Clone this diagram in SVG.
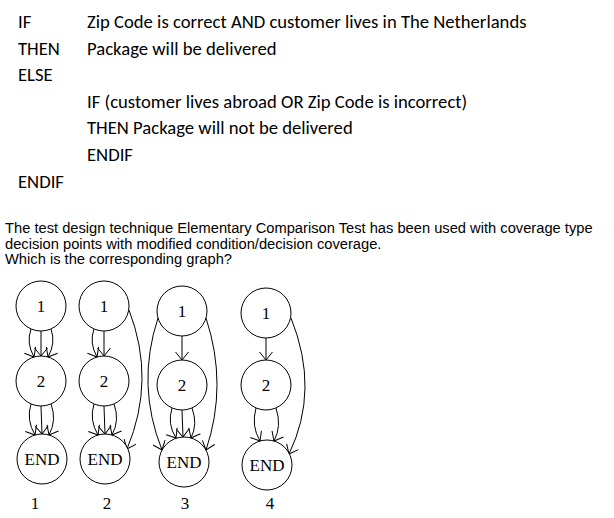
<svg xmlns="http://www.w3.org/2000/svg" width="614" height="518" viewBox="0 0 614 518">
<style>
.code{font-family:Carlito,Lato,"Open Sans",sans-serif;font-size:18.67px;fill:#000}
.para{font-family:"Liberation Sans",Arial,sans-serif;font-size:14.7px;fill:#000}
.node circle{fill:#fff;stroke:#000;stroke-width:1}
.node text,.lbl{font-family:"Liberation Serif","Times New Roman",serif;font-size:17px;fill:#000;text-anchor:middle}
.edges path{fill:none;stroke:#000;stroke-width:1;marker-end:url(#arr)}
</style>
<defs>
<marker id="arr" markerUnits="userSpaceOnUse" viewBox="0 0 14 14" markerWidth="14" markerHeight="14" refX="11" refY="7" orient="auto">
<path d="M3,0.5 L11,7 L3,13.5" fill="none" stroke="#000" stroke-width="1"/>
</marker>
</defs>
<rect width="614" height="518" fill="#fff"/>
<g id="code">
<text class="code" x="18" y="28">IF</text>
<text class="code" x="87" y="28">Zip Code is correct AND customer lives in The Netherlands</text>
<text class="code" x="18" y="55">THEN</text>
<text class="code" x="87" y="55">Package will be delivered</text>
<text class="code" x="18" y="81">ELSE</text>
<text class="code" x="87" y="108">IF (customer lives abroad OR Zip Code is incorrect)</text>
<text class="code" x="87" y="134">THEN Package will not be delivered</text>
<text class="code" x="87" y="161">ENDIF</text>
<text class="code" x="18" y="188">ENDIF</text>
</g>
<g id="question">
<text class="para" x="5" y="233">The test design technique Elementary Comparison Test has been used with coverage type</text>
<text class="para" x="5" y="248.5">decision points with modified condition/decision coverage.</text>
<text class="para" x="5" y="264">Which is the corresponding graph?</text>
</g>
<g class="edges" id="connectors">
<!-- graph 1 -->
<path d="M41,331 L41,356"/>
<path d="M31,329 Q26,343 34,357"/>
<path d="M51,329 Q56,343 48,357"/>
<path d="M41,406 L42,434"/>
<path d="M31,404 Q26,420 35,435"/>
<path d="M51,404 Q57,420 49,435"/>
<!-- graph 2 -->
<path d="M104,331 L104,356"/>
<path d="M94,329 Q89,343 97,357"/>
<path d="M104,406 L105,434"/>
<path d="M94,404 Q89,420 98,435"/>
<path d="M114,404 Q120,420 112,435"/>
<path d="M129,310 Q156,380 127,449"/>
<!-- graph 3 -->
<path d="M182,336 L182,360"/>
<path d="M182,410 L183,437"/>
<path d="M172,408 Q167,424 176,438"/>
<path d="M192,408 Q198,424 191,438"/>
<path d="M158,318 Q136,385 162,450"/>
<path d="M206,318 Q228,385 206,450"/>
<!-- graph 4 -->
<path d="M266,338 L266,360"/>
<path d="M256,408 Q251,426 260,441"/>
<path d="M276,408 Q282,426 274,441"/>
<path d="M291,318 Q320,390 289,454"/>
</g>
<g class="node" id="g1-n1"><circle cx="41" cy="306" r="25"/><text x="41" y="312">1</text></g>
<g class="node" id="g1-n2"><circle cx="41" cy="381" r="25"/><text x="41" y="387">2</text></g>
<g class="node" id="g1-end"><circle cx="42" cy="459" r="25"/><text x="42" y="465">END</text></g>
<g class="node" id="g2-n1"><circle cx="104" cy="306" r="25"/><text x="104" y="312">1</text></g>
<g class="node" id="g2-n2"><circle cx="104" cy="381" r="25"/><text x="104" y="387">2</text></g>
<g class="node" id="g2-end"><circle cx="105" cy="459" r="25"/><text x="105" y="465">END</text></g>
<g class="node" id="g3-n1"><circle cx="182" cy="311" r="25"/><text x="182" y="317">1</text></g>
<g class="node" id="g3-n2"><circle cx="182" cy="385" r="25"/><text x="182" y="391">2</text></g>
<g class="node" id="g3-end"><circle cx="184" cy="462" r="25"/><text x="184" y="468">END</text></g>
<g class="node" id="g4-n1"><circle cx="266" cy="313" r="25"/><text x="266" y="319">1</text></g>
<g class="node" id="g4-n2"><circle cx="266" cy="385" r="25"/><text x="266" y="391">2</text></g>
<g class="node" id="g4-end"><circle cx="267" cy="465" r="25"/><text x="267" y="471">END</text></g>
<g id="labels">
<text class="lbl" x="35" y="509">1</text>
<text class="lbl" x="107" y="509">2</text>
<text class="lbl" x="185" y="509">3</text>
<text class="lbl" x="270" y="509">4</text>
</g>
</svg>
